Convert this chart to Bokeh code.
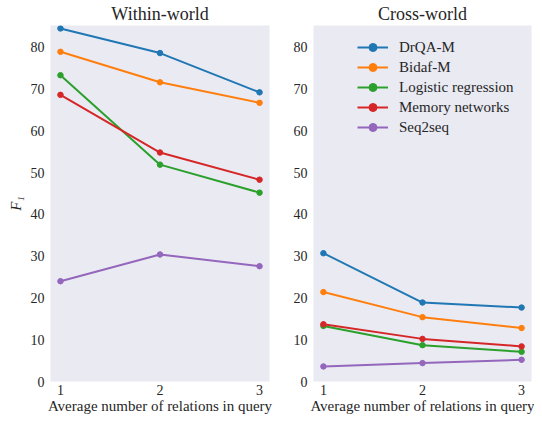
from bokeh.plotting import figure
from bokeh.layouts import row
from bokeh.models import Range1d, FixedTicker
from bokeh.embed import file_html
from bokeh.resources import INLINE

relations = [1, 2, 3]
models = ["DrQA-M", "Bidaf-M", "Logistic regression", "Memory networks", "Seq2seq"]
colors = ["#1f77b4", "#ff7f0e", "#2ca02c", "#d62728", "#9467bd"]

within_drqa = [84.5, 78.6, 69.2]
within_bidaf = [78.9, 71.6, 66.7]
within_logreg = [73.3, 51.9, 45.2]
within_memnet = [68.6, 54.8, 48.3]
within_seq2seq = [24.0, 30.4, 27.6]

cross_drqa = [30.7, 18.9, 17.7]
cross_bidaf = [21.4, 15.4, 12.8]
cross_logreg = [13.3, 8.7, 7.1]
cross_memnet = [13.7, 10.2, 8.4]
cross_seq2seq = [3.6, 4.4, 5.2]

y_ticks = [0, 10, 20, 30, 40, 50, 60, 70, 80]
x_ticks = [1, 2, 3]

FONT = "Liberation Serif"
TXT = "#262626"
FRAME_H = 356


def make_fig(title, fw, bl, br, ylabel):
    p = figure(frame_width=fw, frame_height=FRAME_H, x_range=Range1d(0.9, 3.1), y_range=Range1d(0, 85.2),
               output_backend="svg", toolbar_location=None, title=title,
               min_border_left=bl, min_border_right=br, min_border_top=18, min_border_bottom=30)
    p.background_fill_color = "#EAEAF2"
    p.border_fill_color = "white"
    p.outline_line_color = None
    p.grid.grid_line_color = None
    p.title.text_font = FONT
    p.title.text_font_size = "18px"
    p.title.text_font_style = "normal"
    p.title.align = "center"
    p.title.text_color = TXT
    p.title.standoff = 3
    for ax in (p.xaxis, p.yaxis):
        ax.axis_line_color = None
        ax.major_tick_line_color = None
        ax.minor_tick_line_color = None
        ax.major_tick_out = 0
        ax.major_tick_in = 0
        ax.minor_tick_out = 0
        ax.minor_tick_in = 0
        ax.major_label_text_font = FONT
        ax.major_label_text_font_size = "14px"
        ax.major_label_text_color = TXT
        ax.axis_label_text_font = FONT
        ax.axis_label_text_font_size = "15px"
        ax.axis_label_text_color = TXT
        ax.axis_label_text_font_style = "normal"
    p.xaxis.ticker = FixedTicker(ticks=x_ticks)
    p.yaxis.ticker = FixedTicker(ticks=y_ticks)
    p.xaxis.major_label_standoff = 3
    p.yaxis.major_label_standoff = 6
    p.xaxis.axis_label = "Average number of relations in query"
    p.xaxis.axis_label_standoff = 0
    if ylabel:
        p.yaxis.axis_label = ylabel
        p.yaxis.axis_label_text_font_style = "italic"
        p.yaxis.axis_label_standoff = 4
    return p


p1 = make_fig("Within-world", 219, 50, 7, "F\u2081")
p2 = make_fig("Cross-world", 218, 37, 3, None)

within = [within_drqa, within_bidaf, within_logreg, within_memnet, within_seq2seq]
cross = [cross_drqa, cross_bidaf, cross_logreg, cross_memnet, cross_seq2seq]

for vals, c in zip(within, colors):
    p1.line(relations, vals, line_color=c, line_width=2)
    p1.scatter(relations, vals, fill_color=c, line_color=c, size=5.5)

for vals, c, m in zip(cross, colors, models):
    p2.line(relations, vals, line_color=c, line_width=2, legend_label=m)
    p2.scatter(relations, vals, fill_color=c, line_color=c, size=5.5, legend_label=m)

lg = p2.legend[0]
lg.location = (44, FRAME_H - 12 - 5 * 20)
lg.background_fill_alpha = 0
lg.border_line_alpha = 0
lg.padding = 0
lg.margin = 0
lg.spacing = 0
lg.glyph_width = 31
lg.glyph_height = 20
lg.label_height = 20
lg.label_standoff = 11
lg.label_text_font = FONT
lg.label_text_font_size = "15px"
lg.label_text_color = TXT

layout = row(p1, p2)
open("out.html", "w").write(file_html(layout, INLINE))
